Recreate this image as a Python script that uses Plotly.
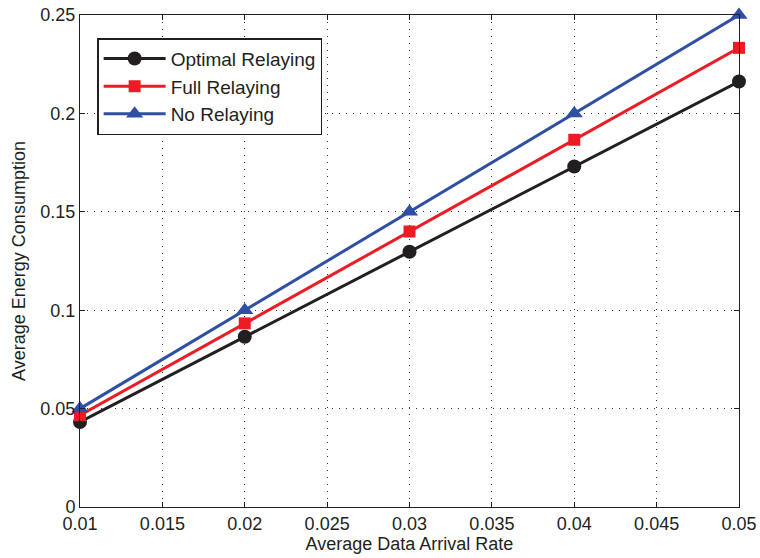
import plotly.graph_objects as go

x_rate = [0.01, 0.02, 0.03, 0.04, 0.05]
optimal = [0.0432, 0.0865, 0.1297, 0.1730, 0.2162]
full = [0.0466, 0.0933, 0.1400, 0.1866, 0.2333]
no_relay = [0.0500, 0.1000, 0.1500, 0.2000, 0.2500]

x_ticks = [0.01, 0.015, 0.02, 0.025, 0.03, 0.035, 0.04, 0.045, 0.05]
x_ticktext = ["0.01", "0.015", "0.02", "0.025", "0.03", "0.035", "0.04", "0.045", "0.05"]
y_ticks = [0, 0.05, 0.1, 0.15, 0.2, 0.25]
y_ticktext = ["0", "0.05", "0.1", "0.15", "0.2", "0.25"]

series = [
    ("Optimal Relaying", optimal, "#231f20", "circle", 14),
    ("Full Relaying", full, "#ed1c24", "square", 12),
    ("No Relaying", no_relay, "#2e4fa3", "triangle-up", 15),
]

fig = go.Figure()
for name, vals, color, sym, size in series:
    fig.add_trace(go.Scatter(
        x=x_rate, y=vals, name=name, mode="lines+markers",
        line=dict(color=color, width=3),
        marker=dict(symbol=sym, size=size, color=color),
        cliponaxis=False,
    ))

axis_common = dict(
    showline=True, linecolor="#231f20", linewidth=1, mirror="ticks",
    ticks="inside", ticklen=5, tickcolor="#231f20",
    showgrid=True, gridcolor="#333333", griddash="1px,6px", gridwidth=1,
    zeroline=False, automargin=False, ticklabeloverflow="allow",
    tickfont=dict(family="Liberation Sans, Arial, sans-serif", size=18, color="#231f20"),
)

fig.update_layout(
    width=760, height=558,
    margin=dict(l=80, r=21, t=15, b=51),
    paper_bgcolor="white", plot_bgcolor="white",
    font=dict(family="Liberation Sans, Arial, sans-serif", color="#231f20"),
    xaxis=dict(range=[0.01, 0.05], tickvals=x_ticks, ticktext=x_ticktext,
               title=dict(text="Average Data Arrival Rate", font=dict(size=18), standoff=0),
               **axis_common),
    yaxis=dict(range=[0, 0.25], tickvals=y_ticks, ticktext=y_ticktext,
               title=dict(text="Average Energy Consumption", font=dict(size=18), standoff=10),
               **axis_common),
    legend=dict(x=0.026, y=0.953, xanchor="left", yanchor="top",
                bgcolor="white", bordercolor="#231f20", borderwidth=1.5,
                font=dict(size=19), itemwidth=62, tracegroupgap=0),
    showlegend=True,
)

fig.write_html("out.html",
               config={"displayModeBar": False},
               post_script="document.body.style.margin='0px';document.body.style.overflow='hidden';")
